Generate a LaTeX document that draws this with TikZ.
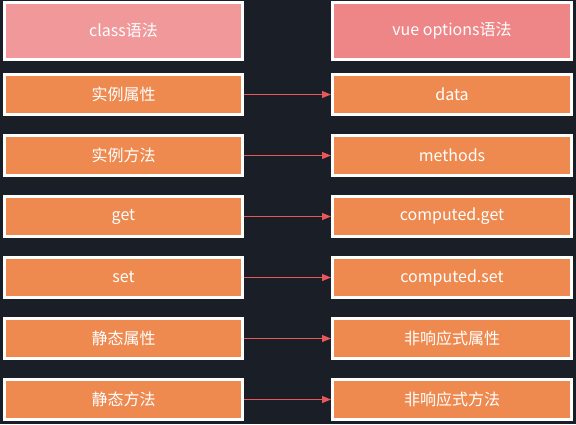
\documentclass[tikz,border=0pt]{standalone}
\usepackage{fontspec}
\setmainfont{Noto Sans CJK SC}
\usetikzlibrary{arrows.meta, positioning}
\definecolor{bgdark}{HTML}{1A1E27}
\definecolor{headleft}{HTML}{F0989A}
\definecolor{headright}{HTML}{EE8688}
\definecolor{rowfill}{HTML}{EE8A50}
\definecolor{linkred}{HTML}{E8585B}
\tikzset{
  headbox/.style={draw=white, line width=3pt, minimum height=57pt, text=white, font=\fontsize{16}{19}\selectfont},
  rowbox/.style={draw=white, fill=rowfill, line width=3pt, minimum height=40pt, text=white, font=\fontsize{16}{19}\selectfont},
  leftbox/.style={minimum width=238pt},
  rightbox/.style={minimum width=239pt},
  link/.style={draw=linkred, line width=1.1pt, -{Triangle[length=9pt,width=7pt]}}
}
\begin{document}
\begin{tikzpicture}[x=1pt, y=1pt]
  \fill[bgdark] (0,0) rectangle (576,-424);
  \useasboundingbox (0,0) rectangle (576,-424);

  \node[headbox, leftbox, fill=headleft] (clshead) at (123.5,-30.5) {class语法};
  \node[headbox, rightbox, fill=headright] (vuehead) at (452,-30.5) {vue options语法};

  \node[rowbox, leftbox] (instprop) at (123.5,-94.5) {实例属性};
  \node[rowbox, leftbox] (instmeth) at (123.5,-155.5) {实例方法};
  \node[rowbox, leftbox] (getter) at (123.5,-216.5) {get};
  \node[rowbox, leftbox] (setter) at (123.5,-277.5) {set};
  \node[rowbox, leftbox] (statprop) at (123.5,-338.5) {静态属性};
  \node[rowbox, leftbox] (statmeth) at (123.5,-399.5) {静态方法};

  \node[rowbox, rightbox] (data) at (452,-94.5) {data};
  \node[rowbox, rightbox] (methods) at (452,-155.5) {methods};
  \node[rowbox, rightbox] (compget) at (452,-216.5) {computed.get};
  \node[rowbox, rightbox] (compset) at (452,-277.5) {computed.set};
  \node[rowbox, rightbox] (nrprop) at (452,-338.5) {非响应式属性};
  \node[rowbox, rightbox] (nrmeth) at (452,-399.5) {非响应式方法};

  \draw[link] (instprop) -- (data);
  \draw[link] (instmeth) -- (methods);
  \draw[link] (getter) -- (compget);
  \draw[link] (setter) -- (compset);
  \draw[link] (statprop) -- (nrprop);
  \draw[link] (statmeth) -- (nrmeth);
\end{tikzpicture}
\end{document}
